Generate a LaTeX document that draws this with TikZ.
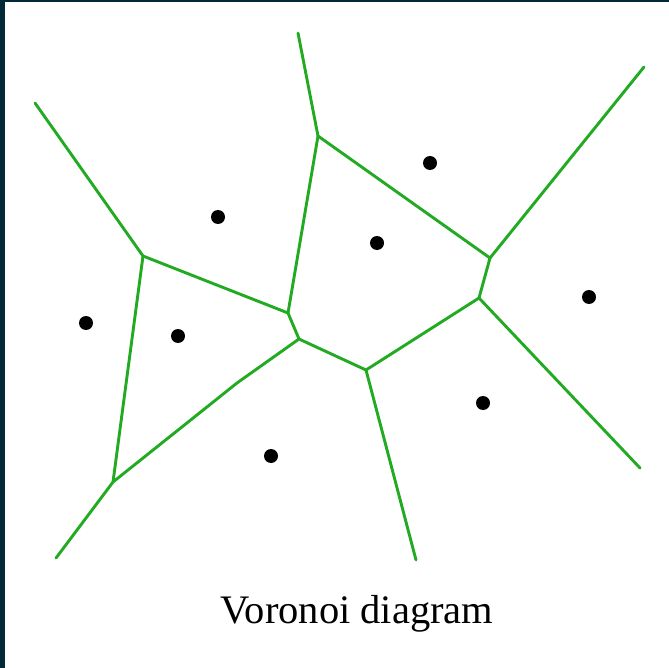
\documentclass[tikz,border=0pt]{standalone}
\usepackage{fontspec}
\setmainfont{Liberation Serif}
\usepackage{tikz}
\usetikzlibrary{positioning, calc}
\definecolor{frameblue}{RGB}{0, 42, 56}
\definecolor{edgegreen}{RGB}{34, 170, 34}
\tikzset{
    edgeline/.style={draw=edgegreen, line width=2.9pt, line cap=round, line join=round},
    sitedot/.style={circle, fill=black, inner sep=0pt, minimum size=14pt},
    caption/.style={font=\fontsize{40.5}{46}\selectfont, text=black},
}

\begin{document}
\begin{tikzpicture}[x=1pt, y=-1pt]
    % frame and page
    \fill[frameblue] (0,0) rectangle (669,668);
    \fill[white] (5,2) rectangle (669,668);
    \useasboundingbox (0,0) rectangle (669,668);

    % Voronoi vertices
    \coordinate (va) at (143,256);
    \coordinate (vb) at (288,313);
    \coordinate (vc) at (318,136);
    \coordinate (vd) at (490,258);
    \coordinate (ve) at (479,298);
    \coordinate (vf) at (366,370);
    \coordinate (vg) at (113,482);
    \coordinate (vh) at (299,339);
    \coordinate (kink) at (237,383);

    % open ends of the unbounded edges
    \coordinate (ea) at (35,103);
    \coordinate (ec) at (298,33);
    \coordinate (ed) at (644,67);
    \coordinate (ee) at (640,468);
    \coordinate (ef) at (416,560);
    \coordinate (eg) at (56,558);

    % edges
    \draw[edgeline] (ea) -- (va) -- (vb) -- (vc) -- (ec);
    \draw[edgeline] (vc) -- (vd) -- (ed);
    \draw[edgeline] (vd) -- (ve) -- (ee);
    \draw[edgeline] (vb) -- (vh) -- (vf) -- (ve);
    \draw[edgeline] (vf) -- (ef);
    \draw[edgeline] (va) -- (vg) -- (eg);
    \draw[edgeline] (vg) -- (kink) -- (vh);

    % sites
    \node[sitedot] (s1) at (218,217) {};
    \node[sitedot] (s2) at (430,163) {};
    \node[sitedot] (s3) at (377,243) {};
    \node[sitedot] (s4) at (589,297) {};
    \node[sitedot] (s5) at (86,323) {};
    \node[sitedot] (s6) at (178,336) {};
    \node[sitedot] (s7) at (483,403) {};
    \node[sitedot] (s8) at (271,456) {};

    % caption
    \node[caption] (title) at (357,614) {Voronoi diagram};
\end{tikzpicture}
\end{document}
